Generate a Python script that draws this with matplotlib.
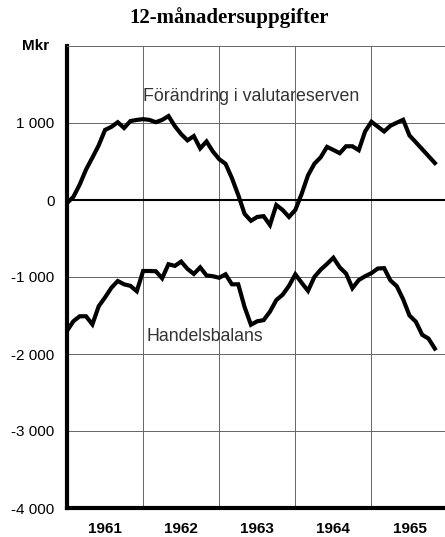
import numpy as np
import matplotlib
matplotlib.use('Agg')
import matplotlib.pyplot as plt

# 12-month figures, monthly from Jan 1961 to Nov 1965 (Mkr)
reserve = [
    -40, 40, 200, 395, 550, 710, 910, 950, 1010, 935, 1025, 1040,
    1050, 1040, 1010, 1040, 1090, 960, 855, 775, 830, 670, 760, 630,
    530, 470, 285, 65, -180, -270, -220, -210, -325, -65, -130, -220,
    -130, 80, 320, 470, 555, 690, 650, 608, 698, 698, 647, 890,
    1016, 953, 890, 965, 1004, 1042, 838, 750, 660, 570, 480,
]
trade = [
    -1700, -1575, -1510, -1510, -1615, -1380, -1265, -1140, -1052, -1095, -1115, -1185,
    -922, -922, -925, -1017, -834, -856, -800, -895, -960, -875, -980, -990,
    -1010, -965, -1095, -1095, -1390, -1620, -1575, -1560, -1450, -1300, -1230, -1115,
    -965, -1075, -1180, -1000, -905, -830, -750, -875, -955, -1145, -1040, -990,
    -950, -890, -885, -1045, -1120, -1290, -1500, -1580, -1750, -1800, -1930,
]
years = ['1961', '1962', '1963', '1964', '1965']
y_ticks = [-4000, -3000, -2000, -1000, 0, 1000]
y_labels = ['-4 000', '-3 000', '-2 000', '-1 000', '0', '1 000']

sans = ['Liberation Sans', 'DejaVu Sans']

fig = plt.figure(figsize=(4.45, 5.37), dpi=100)
ax = fig.add_axes([67 / 445, 1 - 508 / 537, 1 - 67 / 445, 462 / 537])

months = np.arange(len(reserve))
ax.plot(months, reserve, color='black', linewidth=3, solid_joinstyle='miter', zorder=5)
ax.plot(months, trade, color='black', linewidth=3, solid_joinstyle='miter', zorder=5)
ax.axhline(0, color='black', linewidth=1.5, zorder=4)

ax.set_xlim(0, 59.6)
ax.set_ylim(-4000, 2000)

# gridlines at year boundaries, year names in the middle of each year
ax.set_xticks([12, 24, 36, 48])
ax.set_xticklabels([])
ax.set_xticks([6 + 12 * i for i in range(len(years))], minor=True)
ax.set_xticklabels(years, minor=True, family=sans, fontsize=11, fontweight='bold')
ax.tick_params(axis='x', which='both', length=0, pad=10)

ax.set_yticks(y_ticks)
ax.set_yticklabels(y_labels, family=sans, fontsize=11)
ax.tick_params(axis='y', length=0, pad=9)

ax.grid(color='#666666', linewidth=0.7, zorder=1)

for side in ['left', 'bottom']:
    ax.spines[side].set_linewidth(3)
ax.spines['right'].set_visible(False)
ax.spines['top'].set_linewidth(0.7)
ax.spines['top'].set_color('#666666')

ax.text(12.0, 1340, 'Förändring i valutareserven', family=sans, fontsize=12.8,
        color='#333333', va='center', ha='left', zorder=6)
ax.text(12.6, -1770, 'Handelsbalans', family=sans, fontsize=12.7,
        color='#333333', va='center', ha='left', zorder=6)

fig.text(36 / 445, 1 - 46 / 537, 'Mkr', family=sans, fontsize=11,
         fontweight='bold', ha='center', va='center')
fig.text(229 / 445, 1 - 18 / 537, '12-månadersuppgifter',
         family=['Liberation Serif', 'DejaVu Serif'], fontsize=15,
         fontweight='bold', ha='center', va='center')

fig.savefig('out.png', dpi=100)
